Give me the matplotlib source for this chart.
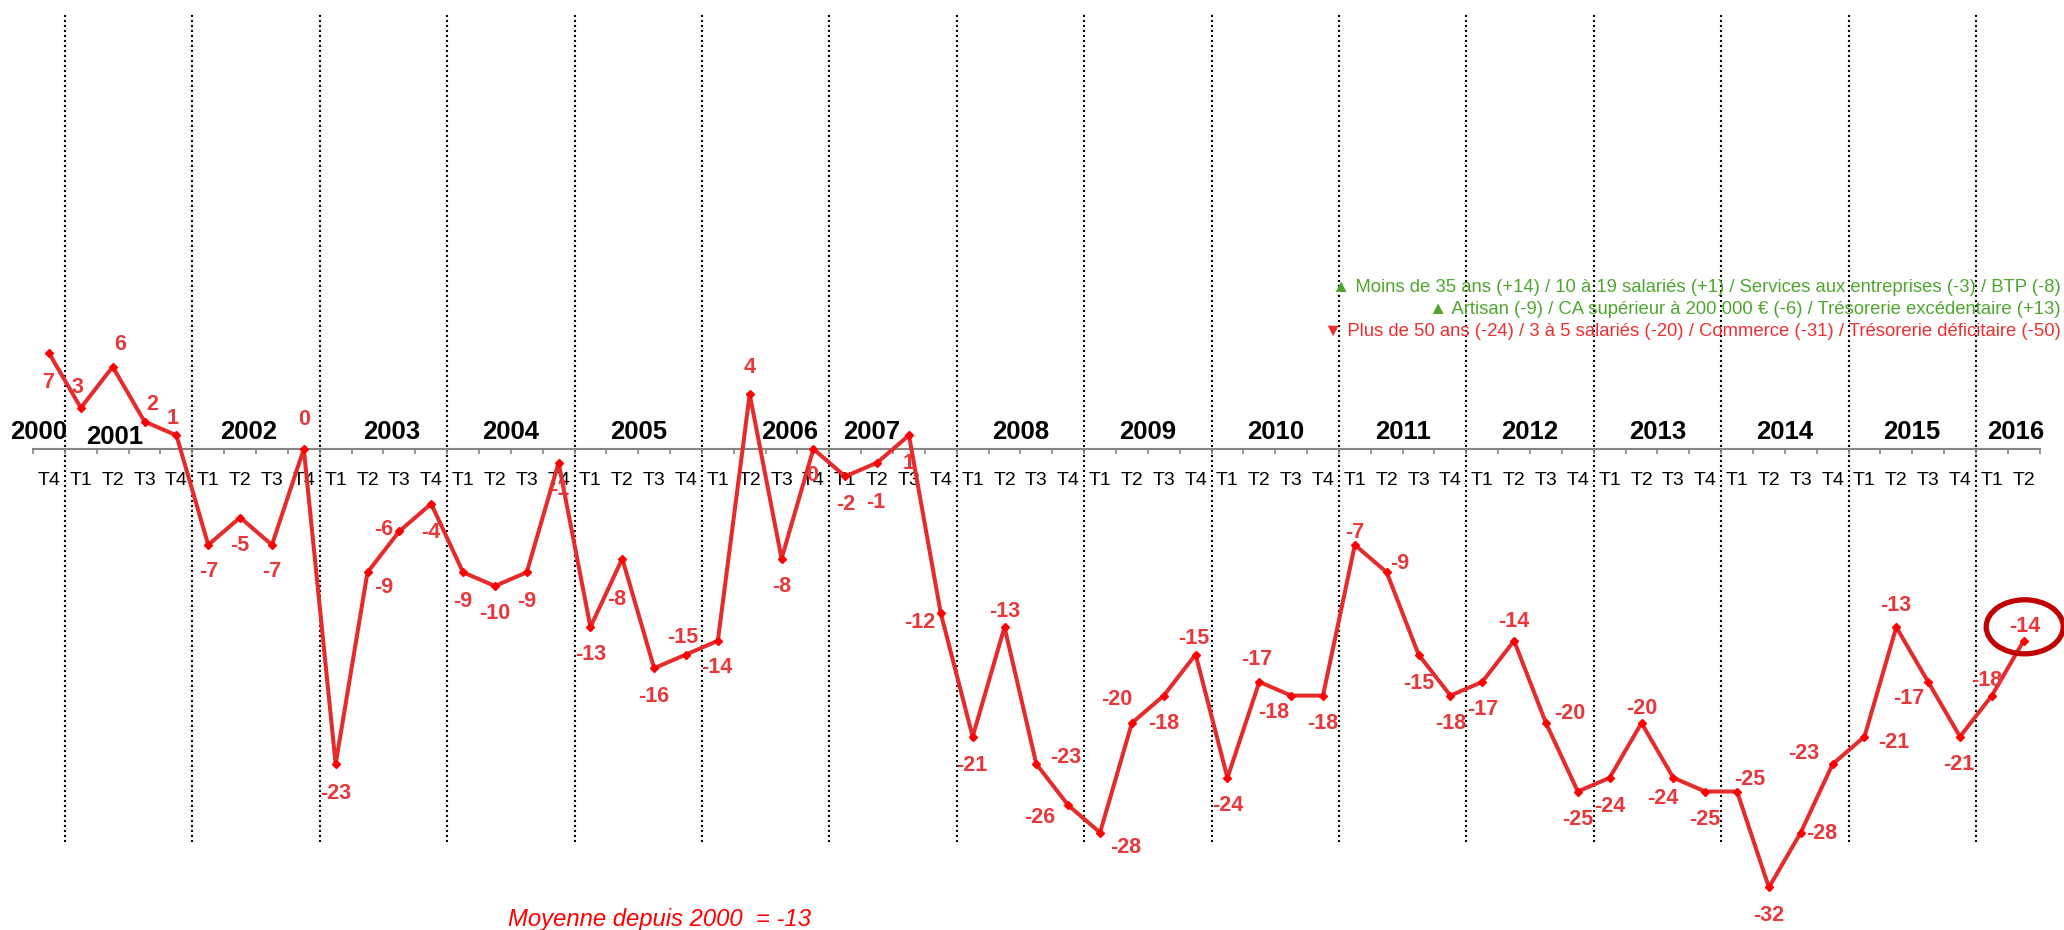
import numpy as np
import matplotlib
matplotlib.use('Agg')
import matplotlib.pyplot as plt
from matplotlib.patches import Ellipse

plt.rcParams['font.family'] = ['Liberation Sans', 'DejaVu Sans']

# quarterly balance of opinion, 2000 T4 -> 2016 T2
first_year, last_year = 2000, 2016
quarters = ['T4'] + ['T1', 'T2', 'T3', 'T4'] * 15 + ['T1', 'T2']
values = [7,
          3, 6, 2, 1,
          -7, -5, -7, 0,
          -23, -9, -6, -4,
          -9, -10, -9, -1,
          -13, -8, -16, -15,
          -14, 4, -8, 0,
          -2, -1, 1, -12,
          -21, -13, -23, -26,
          -28, -20, -18, -15,
          -24, -17, -18, -18,
          -7, -9, -15, -18,
          -17, -14, -20, -25,
          -24, -20, -24, -25,
          -25, -32, -28, -23,
          -21, -13, -17, -21,
          -18, -14]
moyenne = -13

legend_up = ['Moins de 35 ans (+14) / 10 à 19 salariés (+1) / Services aux entreprises (-3) / BTP (-8)',
             'Artisan (-9) / CA supérieur à 200 000 € (-6) / Trésorerie excédentaire (+13)']
legend_down = ['Plus de 50 ans (-24) / 3 à 5 salariés (-20) / Commerce (-31) / Trésorerie déficitaire (-50)']

# label offsets in pixels (dx, dy downwards) from each point
label_offsets = [(-1, 29),
                 (-3, -20), (7, -22), (8, -17), (-4, -17),
                 (0, 27), (0, 28), (0, 27), (0, -30),
                 (0, 29), (16, 15), (-16, -2), (0, 29),
                 (0, 29), (0, 27), (0, 29), (1, 27),
                 (0, 27), (-6, 41), (0, 28), (-3, -17),
                 (-1, 27), (0, -27), (0, 28), (-1, 26),
                 (0, 28), (-1, 40), (0, 28), (-21, 9),
                 (-1, 29), (0, -16), (29, -7), (-29, 12),
                 (26, 15), (-15, -24), (0, 28), (-2, -16),
                 (0, 28), (-3, -22), (-17, 17), (0, 28),
                 (0, -12), (13, -9), (0, 29), (0, 28),
                 (0, 28), (0, -19), (24, -10), (0, 28),
                 (0, 29), (0, -15), (-11, 21), (0, 28),
                 (13, -12), (0, 28), (21, 1), (-29, -11),
                 (29, 6), (-1, -22), (-19, 17), (-1, 28),
                 (-5, -15), (1, -14)]
year_nudge = {2000: -10, 2001: -14, 2002: -7, 2003: 8, 2006: 24, 2007: -21, 2016: 8}

W, H = 2064, 930
X0, PX_X = 49, 31.85     # pixel of first point, pixels per quarter
Y0, PX_Y = 449, 13.7     # pixel of zero line, pixels per unit

red_line = '#e52b2b'
red_label = '#e8383b'
green = '#4fa62f'

n = len(values)
x = np.arange(n)
year_of = [first_year] + [y for y in range(first_year + 1, last_year) for _ in range(4)] + [last_year] * 2

fig = plt.figure(figsize=(W / 100, H / 100), dpi=100)
ax = fig.add_axes([0, 0, 1, 1])
ax.set_xlim(-X0 / PX_X, (W - X0) / PX_X)
ax.set_ylim(-(H - Y0) / PX_Y, Y0 / PX_Y)

for s in ['top', 'left', 'right']:
    ax.spines[s].set_visible(False)
ax.spines['bottom'].set_position(('data', 0))
ax.spines['bottom'].set_bounds(-0.5, n - 0.5)
ax.spines['bottom'].set_color('#868686')
ax.spines['bottom'].set_linewidth(1.5)
ax.set_yticks([])
ax.set_xticks(np.arange(-0.5, n), labels=[])
ax.tick_params(axis='x', which='major', direction='out', length=3.8, width=1.2, color='#868686')
ax.set_xticks(x, labels=quarters, minor=True)
ax.tick_params(axis='x', which='minor', length=0, pad=16.5, labelsize=14, labelcolor='black')

# dotted year separators
for i in range(1, n):
    if year_of[i] != year_of[i - 1]:
        ax.axvline(i - 0.5, ymin=(H - 842) / H, ymax=(H - 13) / H, color='black',
                   lw=1.5, ls=(0, (1, 1.4)), zorder=1)

# year labels
for yr in range(first_year, last_year + 1):
    xc = np.mean([i for i in range(n) if year_of[i] == yr])
    dy = 12 if yr == 2001 else 17
    ax.annotate(str(yr), (xc, 0), xytext=(year_nudge.get(yr, 0), dy), textcoords='offset pixels',
                ha='center', va='center', fontsize=18.5, fontweight='bold', color='black')

ax.plot(x, values, color=red_line, lw=2.9, marker='D', ms=4.5, mfc='#ff0000', mec='#ff0000',
        zorder=3)

for i, v in enumerate(values):
    dx, dy = label_offsets[i]
    ax.annotate(str(v), (i, v), xytext=(dx, -dy), textcoords='offset pixels', ha='center',
                va='center', fontsize=15.5, fontweight='bold', color=red_label, zorder=4)

# circle around the last value
dx, dy = label_offsets[-1]
ax.add_patch(Ellipse((n - 1 + dx / PX_X, values[-1] - dy / PX_Y), 77 / PX_X, 54 / PX_Y,
                     fill=False, ec='#c00000', lw=3.8, zorder=5))

# legend lines top right
for k, line in enumerate(legend_up):
    fig.text(2061 / W, 1 - (288 + 21.5 * k) / H, '▲ ' + line, ha='right', va='center',
             fontsize=13.3, color=green)
fig.text(2061 / W, 1 - 331 / H, '▼ ' + legend_down[0], ha='right', va='center',
         fontsize=13.3, color='#ee2f2f')

fig.text(659 / W, 1 - 919 / H, 'Moyenne depuis 2000  = %d' % moyenne, ha='center', va='center',
         fontsize=17.2, style='italic', color='#ff0000')

fig.savefig('out.png', dpi=100, facecolor='white')
